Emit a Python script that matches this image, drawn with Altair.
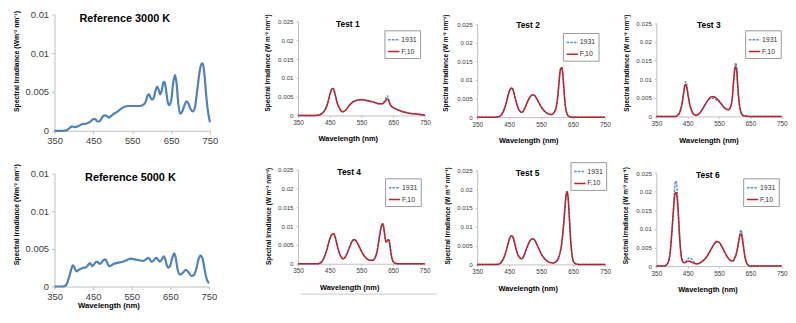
import altair as alt
import pandas as pd

FONT = "Liberation Sans"
BLUE_REF = "#4f81bd"
BLUE = "#5b8fd4"
RED = "#be2129"
AX = "#bfbfbf"
LBL = "#404040"

X_TICKS = [350, 450, 550, 650, 750]
REF_Y_TICKS = [0, 0.005, 0.01, 0.015]
TEST_Y_TICKS = [0, 0.005, 0.01, 0.015, 0.02, 0.025]
SERIES = ["1931", "F,10"]

# ---------------- reference spectra ----------------
ref3000_wl = [350, 360, 370, 380, 385, 390, 395, 400, 405, 410, 415, 420, 425, 430, 435, 440, 445, 450, 455, 460,
              465, 470, 475, 480, 485, 490, 495, 500, 510, 520, 530, 540, 550, 560, 570, 580, 585, 590, 593, 597,
              601, 605, 610, 614, 618, 622, 626, 630, 633, 637, 641, 645, 650, 655, 660, 664, 668, 673, 678, 684,
              690, 695, 700, 706, 712, 718, 724, 729, 732, 736, 740, 745, 750]
ref3000_val = [0, 0, 0, 0.00005, 0.0002, 0.0004, 0.00058, 0.00048, 0.0005, 0.0006, 0.0007, 0.00085, 0.0009, 0.0009,
               0.001, 0.0011, 0.0013, 0.0015, 0.0015, 0.0012, 0.0012, 0.0015, 0.0019, 0.002, 0.0019, 0.0017, 0.0019,
               0.0021, 0.0024, 0.0028, 0.0031, 0.0032, 0.0032, 0.0032, 0.0032, 0.0034, 0.0038, 0.0046, 0.0047,
               0.0043, 0.004, 0.0042, 0.0052, 0.0057, 0.0053, 0.0047, 0.0052, 0.0062, 0.0063, 0.0053, 0.0038,
               0.0033, 0.0038, 0.006, 0.0072, 0.0062, 0.0038, 0.0022, 0.0024, 0.0032, 0.0038, 0.0035, 0.0028,
               0.0025, 0.0032, 0.0055, 0.0078, 0.0087, 0.0086, 0.0072, 0.0048, 0.0025, 0.0011]

ref5000_wl = [350, 370, 378, 383, 388, 393, 397, 400, 404, 408, 412, 416, 420, 425, 430, 436, 442, 448, 453, 459,
              463, 467, 472, 477, 482, 487, 492, 497, 503, 510, 518, 527, 537, 548, 558, 569, 578, 584, 589, 593,
              597, 601, 606, 610, 614, 618, 623, 628, 633, 637, 641, 645, 650, 655, 660, 664, 668, 675, 682, 690,
              697, 705, 712, 718, 723, 728, 733, 738, 743, 750]
ref5000_val = [0, 0, 0.0001, 0.0005, 0.0013, 0.0022, 0.0028, 0.0027, 0.0022, 0.002, 0.0022, 0.0023, 0.0024, 0.0025,
               0.0025, 0.0028, 0.0031, 0.0027, 0.003, 0.0033, 0.0032, 0.003, 0.0032, 0.0035, 0.0036, 0.0031, 0.0027,
               0.0028, 0.003, 0.0031, 0.0032, 0.0033, 0.0035, 0.0037, 0.0036, 0.0035, 0.0034, 0.0035, 0.0037,
               0.0038, 0.0036, 0.0033, 0.0034, 0.0037, 0.0038, 0.0036, 0.0033, 0.0036, 0.004, 0.0036, 0.0028,
               0.0025, 0.0028, 0.0038, 0.0044, 0.0038, 0.0025, 0.0016, 0.0018, 0.0022, 0.0019, 0.0014, 0.0016,
               0.0025, 0.0036, 0.0041, 0.0038, 0.0025, 0.0012, 0.0004]

# ---------------- test spectra (wavelength, F,10 and 1931) ----------------
t1_wl = [350, 400, 415, 425, 435, 445, 450, 455, 459, 463, 468, 473, 480, 490, 500, 510, 520, 530, 540, 550, 560,
         570, 580, 590, 600, 610, 615, 620, 625, 629, 632, 636, 640, 645, 650, 660, 670, 680, 700, 720, 750]
t1_f10 = [0, 0, 0.0001, 0.0005, 0.0015, 0.0037, 0.0055, 0.0068, 0.0072, 0.0068, 0.0052, 0.0035, 0.002, 0.001,
          0.0014, 0.0025, 0.0034, 0.0039, 0.0041, 0.0042, 0.0041, 0.0039, 0.0037, 0.0035, 0.0032, 0.0031, 0.0031,
          0.0033, 0.0038, 0.0043, 0.0044, 0.0038, 0.003, 0.0024, 0.0021, 0.0017, 0.0013, 0.001, 0.0006, 0.0004,
          0.0001]
t1_1931 = [0, 0, 0.0001, 0.0005, 0.0015, 0.0037, 0.0055, 0.0068, 0.0072, 0.0068, 0.0052, 0.0035, 0.002, 0.001,
           0.0014, 0.0025, 0.0034, 0.0039, 0.0041, 0.0042, 0.0041, 0.0039, 0.0037, 0.0035, 0.0032, 0.0031, 0.0031,
           0.0036, 0.0043, 0.005, 0.0052, 0.0042, 0.003, 0.0024, 0.0021, 0.0017, 0.0013, 0.001, 0.0006, 0.0004,
           0.0001]

t2_wl = [350, 410, 420, 430, 440, 448, 453, 458, 463, 468, 475, 482, 490, 498, 505, 512, 518, 524, 530, 537, 545,
         555, 565, 575, 583, 590, 597, 602, 606, 609, 612, 615, 618, 621, 625, 630, 636, 645, 660, 750]
t2_f10 = [0, 0, 0.0002, 0.0012, 0.0035, 0.0062, 0.0074, 0.0078, 0.0072, 0.0055, 0.0032, 0.0018, 0.0013, 0.0022,
          0.0036, 0.0049, 0.0057, 0.006, 0.0058, 0.0049, 0.0036, 0.0022, 0.0013, 0.0008, 0.0007, 0.0012, 0.0025,
          0.0052, 0.009, 0.0118, 0.0131, 0.0133, 0.0118, 0.0084, 0.004, 0.0013, 0.0003, 0, 0, 0]
t2_1931 = [0, 0, 0.0002, 0.0012, 0.0035, 0.0062, 0.0074, 0.0078, 0.0072, 0.0055, 0.0032, 0.0018, 0.0013, 0.0022,
           0.0036, 0.0049, 0.0057, 0.006, 0.0058, 0.0049, 0.0036, 0.0022, 0.0013, 0.0008, 0.0007, 0.0012, 0.0025,
           0.0052, 0.009, 0.0118, 0.0131, 0.0133, 0.0118, 0.0084, 0.004, 0.0013, 0.0003, 0, 0, 0]

t3_wl = [350, 410, 418, 425, 432, 437, 441, 444, 447, 451, 456, 463, 470, 478, 486, 495, 505, 515, 522, 530, 538,
         546, 555, 565, 575, 580, 586, 592, 596, 600, 603, 606, 609, 613, 618, 623, 628, 635, 650, 750]
t3_f10 = [0, 0, 0.0003, 0.0012, 0.0035, 0.0062, 0.0082, 0.0085, 0.0078, 0.0058, 0.0034, 0.0015, 0.0005, 0.0003,
          0.0007, 0.0017, 0.0031, 0.0044, 0.0051, 0.0053, 0.0051, 0.0045, 0.0036, 0.0025, 0.0019, 0.0018, 0.0024,
          0.0048, 0.009, 0.0124, 0.0133, 0.0124, 0.009, 0.0045, 0.0017, 0.0006, 0.0002, 0.0001, 0, 0]
t3_1931 = [0, 0, 0.0003, 0.0012, 0.0035, 0.0062, 0.0088, 0.0093, 0.0084, 0.0058, 0.0034, 0.0015, 0.0005, 0.0003,
           0.0007, 0.0017, 0.0031, 0.0044, 0.0048, 0.0049, 0.0047, 0.0041, 0.0036, 0.0025, 0.0019, 0.0018, 0.0024,
           0.0048, 0.009, 0.0132, 0.0143, 0.0133, 0.009, 0.0045, 0.0017, 0.0006, 0.0002, 0.0001, 0, 0]

t4_wl = [350, 410, 420, 430, 440, 450, 456, 462, 467, 472, 478, 486, 493, 500, 508, 515, 521, 527, 533, 540, 548,
         558, 568, 578, 585, 592, 600, 607, 613, 617, 621, 625, 628, 632, 636, 640, 644, 649, 655, 665, 750]
t4_f10 = [0, 0, 0.0002, 0.0012, 0.0035, 0.0065, 0.0077, 0.008, 0.0072, 0.0055, 0.0035, 0.0018, 0.0013, 0.0019,
          0.0034, 0.0049, 0.006, 0.0064, 0.0061, 0.0051, 0.0037, 0.0022, 0.0013, 0.0009, 0.0009, 0.0014, 0.0035,
          0.0072, 0.0099, 0.0106, 0.0094, 0.0068, 0.0058, 0.0061, 0.0064, 0.005, 0.0025, 0.0008, 0.0002, 0, 0]
t4_1931 = [0, 0, 0.0002, 0.0012, 0.0035, 0.0065, 0.0077, 0.008, 0.0072, 0.0055, 0.0035, 0.0018, 0.0013, 0.0019,
           0.0034, 0.0049, 0.006, 0.0064, 0.0061, 0.0051, 0.0037, 0.0022, 0.0013, 0.0009, 0.0009, 0.0014, 0.0035,
           0.0072, 0.0099, 0.0106, 0.0094, 0.0068, 0.0058, 0.0061, 0.0064, 0.005, 0.0025, 0.0008, 0.0002, 0, 0]

t5_wl = [350, 410, 420, 430, 440, 448, 453, 458, 463, 468, 475, 482, 489, 496, 503, 510, 516, 522, 528, 535, 543,
         553, 563, 575, 587, 597, 606, 614, 620, 625, 628, 631, 634, 638, 642, 647, 652, 660, 670, 750]
t5_f10 = [0, 0, 0.0002, 0.0012, 0.0034, 0.006, 0.0072, 0.0076, 0.007, 0.0053, 0.0031, 0.0019, 0.0015, 0.0023,
          0.0039, 0.0054, 0.0064, 0.0068, 0.0066, 0.0056, 0.0041, 0.0024, 0.0013, 0.0006, 0.0004, 0.0008, 0.0022,
          0.0055, 0.0105, 0.0158, 0.0185, 0.0193, 0.0178, 0.0125, 0.0065, 0.0022, 0.0006, 0.0001, 0, 0]
t5_1931 = [0, 0, 0.0002, 0.0012, 0.0034, 0.006, 0.0072, 0.0076, 0.007, 0.0053, 0.0031, 0.0019, 0.0015, 0.0023,
           0.0039, 0.0054, 0.0064, 0.0068, 0.0066, 0.0056, 0.0041, 0.0024, 0.0013, 0.0006, 0.0004, 0.0008, 0.0022,
           0.0055, 0.0105, 0.0158, 0.0185, 0.0193, 0.0178, 0.0125, 0.0065, 0.0022, 0.0006, 0.0001, 0, 0]

t6_wl = [350, 375, 385, 393, 399, 404, 408, 411, 414, 417, 421, 425, 429, 434, 440, 448, 455, 462, 470, 478, 485,
         495, 505, 515, 525, 535, 543, 550, 558, 567, 577, 587, 594, 600, 607, 613, 617, 620, 623, 627, 632, 637,
         643, 650, 750]
t6_f10 = [0, 0, 0.0006, 0.003, 0.0085, 0.0145, 0.0185, 0.0198, 0.0196, 0.0175, 0.0125, 0.0068, 0.003, 0.0012,
          0.0009, 0.0012, 0.0013, 0.0011, 0.0008, 0.0006, 0.0007, 0.0012, 0.0019, 0.0031, 0.0046, 0.006, 0.0066,
          0.0064, 0.0054, 0.0039, 0.0024, 0.0015, 0.0014, 0.0021, 0.004, 0.0068, 0.0083, 0.0087, 0.008, 0.0058,
          0.0028, 0.001, 0.0003, 0, 0]
t6_1931 = [0, 0, 0.0006, 0.003, 0.0085, 0.0145, 0.0205, 0.0228, 0.0226, 0.0195, 0.0135, 0.0068, 0.003, 0.0012,
           0.0009, 0.0017, 0.0022, 0.0019, 0.0011, 0.0006, 0.0007, 0.0012, 0.0019, 0.0031, 0.0046, 0.006, 0.0066,
           0.0064, 0.0054, 0.0039, 0.0024, 0.0015, 0.0014, 0.0021, 0.004, 0.0068, 0.0091, 0.0097, 0.0088, 0.0058,
           0.0028, 0.001, 0.0003, 0, 0]

REF_YTITLE = "Spectral Irradiance (Wm\u207b\u00b2 nm\u207b\u00b9)"
TEST_YTITLE = "Spectral Irradiance (W m\u207b\u00b2 nm\u207b\u00b9)"
XTITLE = "Wavelength (nm)"


def label_layer(text, x, y, size):
    return alt.Chart(pd.DataFrame({"t": [text]})).mark_text(
        font=FONT, fontSize=size, fontWeight="bold", color="#000", align="center", baseline="middle"
    ).encode(x=alt.value(x), y=alt.value(y), text="t:N")


def x_enc(xr, title, tx, ty, lsize, tsize, tick):
    return alt.X(
        "wl:Q",
        scale=alt.Scale(domain=[350, 750], range=xr, nice=False, zero=False),
        axis=alt.Axis(values=X_TICKS, format="d", title=title, grid=False, labelFlush=False, labelOverlap=False,
                      labelFont=FONT, labelFontSize=lsize, labelColor=LBL, labelPadding=2,
                      tickSize=tick, tickColor=AX, domainColor=AX,
                      titleFont=FONT, titleFontSize=tsize, titleFontWeight="bold", titleColor="#000",
                      titleX=tx, titleY=ty, titleAlign="center", titleBaseline="middle"),
    )


def y_enc(dom, yr, ticks, title, tx, ty, lsize, tsize, tick, lpad):
    return alt.Y(
        "v:Q",
        scale=alt.Scale(domain=dom, range=yr, nice=False, zero=False),
        axis=alt.Axis(values=ticks, format="~g", title=title, grid=False, labelOverlap=False,
                      labelFont=FONT, labelFontSize=lsize, labelColor=LBL, labelPadding=lpad,
                      tickSize=tick, tickColor=AX, domainColor=AX,
                      titleFont=FONT, titleFontSize=tsize, titleFontWeight="bold", titleColor="#000",
                      titleAngle=270, titleX=tx, titleY=ty, titleAlign="center", titleBaseline="middle"),
    )


def ref_cell(wl, vals, name, w, h, xr, yr, title_xy, ytitle_xy, xtitle_xy, guard=False):
    df = pd.DataFrame({"wl": wl, "v": vals})
    line = alt.Chart(df).mark_line(color=BLUE_REF, strokeWidth=2.2, interpolate="monotone").encode(
        x=x_enc(xr, XTITLE if xtitle_xy else None, xtitle_xy[0] if xtitle_xy else 0,
                xtitle_xy[1] if xtitle_xy else 0, 9.5, 7.8, 3),
        y=y_enc([0, 0.015], yr, REF_Y_TICKS, REF_YTITLE, ytitle_xy[0], ytitle_xy[1], 9.5, 6.9, 3, 3),
    )
    layers = [line, label_layer(name, title_xy[0], title_xy[1], 11)]
    if guard:
        layers.append(
            alt.Chart(pd.DataFrame({"a": [0]})).mark_rule(opacity=0, strokeWidth=0).encode(
                x=alt.value(-47), x2=alt.value(-47), y=alt.value(20), y2=alt.value(30))
        )
    return alt.layer(*layers).properties(width=w, height=h)


def test_cell(wl, f10, c1931, name, w, h, xr, yr, title_xy, legend_xy, ytitle_xy, xtitle_xy, extra=None):
    df = pd.concat([
        pd.DataFrame({"wl": wl, "v": c1931, "series": SERIES[0]}),
        pd.DataFrame({"wl": wl, "v": f10, "series": SERIES[1]}),
    ])
    leg = alt.Legend(title=None, orient="none", legendX=legend_xy[0], legendY=legend_xy[1],
                     symbolType="stroke", symbolSize=130, symbolStrokeWidth=1.5,
                     labelFont=FONT, labelFontSize=7, labelColor="#333", labelOffset=1,
                     labelExpr="datum.label + '   '",
                     rowPadding=2, padding=3, strokeColor="#9a9a9a", fillColor="white")
    line = alt.Chart(df).mark_line(strokeWidth=1.5, interpolate="monotone").encode(
        x=x_enc(xr, XTITLE, xtitle_xy[0], xtitle_xy[1], 6.5, 7.5, 2),
        y=y_enc([0, 0.025], yr, TEST_Y_TICKS, TEST_YTITLE, ytitle_xy[0], ytitle_xy[1], 6.3, 6.5, 2, 3),
        color=alt.Color("series:N", scale=alt.Scale(domain=SERIES, range=[BLUE, RED]), legend=leg),
        strokeDash=alt.StrokeDash("series:N", scale=alt.Scale(domain=SERIES, range=[[2.5, 1.2], [1, 0]]),
                                  legend=leg),
        order=alt.Order("series:N"),
    )
    layers = [line, label_layer(name, title_xy[0], title_xy[1], 8.5)]
    if extra is not None:
        layers.append(extra)
    return alt.layer(*layers).properties(width=w, height=h)


# faint axis fragment visible below Test 4 in the source figure
fragment = alt.Chart(pd.DataFrame({"a": [0]})).mark_rule(color="#c8c8c8", strokeWidth=1).encode(
    x=alt.value(3), x2=alt.value(140), y=alt.value(125.7), y2=alt.value(125.7))

c1 = ref_cell(ref3000_wl, ref3000_val, "Reference 3000 K", 245.7, 121.5, [0, 157], [121.5, 4],
              (71, 8.5), (-38.5, 51), None, guard=True)
c2 = test_cell(t1_wl, t1_f10, t1_1931, "Test 1", 181, 106, [0, 128.3], [106, 11],
               (50.3, 13.7), (87.3, 20), (-30.7, 52.5), (50.3, 23.3))
c3 = test_cell(t2_wl, t2_f10, t2_1931, "Test 2", 180.6, 107.7, [0, 129], [107.7, 13.7],
               (51.3, 15), (86.6, 22.7), (-31.7, 52.7), (51.6, 24))
c4 = test_cell(t3_wl, t3_f10, t3_1931, "Test 3", 127, 107, [0, 126.7], [107, 12.7],
               (53, 15), (89.7, 20), (-30, 52.7), (52.7, 24))
c5 = ref_cell(ref5000_wl, ref5000_val, "Reference 5000 K", 245.7, 118, [0, 156], [118, 4],
              (76.7, 8), (-38, 45), (54.5, 19.4))
c6 = test_cell(t4_wl, t4_f10, t4_1931, "Test 4", 181, 95, [0, 128], [95, 0],
               (51.7, 2.7), (88, 8.7), (-30, 46.7), (51.7, 24), extra=fragment)
c7 = test_cell(t5_wl, t5_f10, t5_1931, "Test 5", 180.6, 95.7, [0, 129.3], [95.7, 0.7],
               (51, 3.7), (94.3, -7.6), (-30, 46.2), (51, 24.3))
c8 = test_cell(t6_wl, t6_f10, t6_1931, "Test 6", 127, 97.4, [0, 126.7], [97.4, 3.4],
               (52, 5), (87.7, 8.7), (-31.5, 46), (51.7, 23.3))

chart = alt.concat(
    c1, c2, c3, c4, c5, c6, c7, c8,
    columns=4, spacing={"row": 38.8, "column": 0}, bounds="flush", align="each",
).resolve_scale(
    x="independent", y="independent", color="independent", strokeDash="independent"
).resolve_legend(
    color="independent", strokeDash="independent"
).configure_view(
    strokeWidth=0
).properties(
    padding={"left": 0, "top": 0, "right": 0, "bottom": 0}, background="white"
)

chart.save("out.html", embed_options={"renderer": "svg", "actions": False})
